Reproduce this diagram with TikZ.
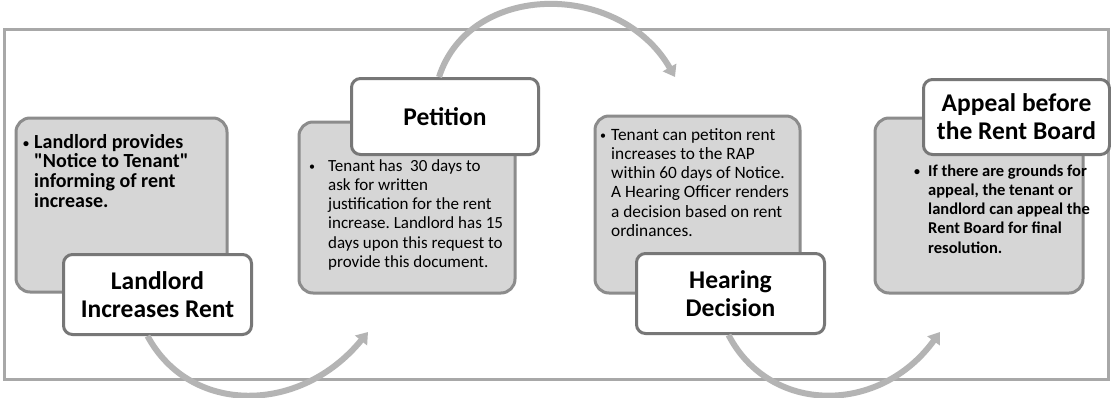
\documentclass[tikz,border=0pt]{standalone}
\usepackage{fontspec}
\setmainfont{Carlito}
\usetikzlibrary{arrows.meta}
\frenchspacing
\definecolor{framegray}{HTML}{A8A8A8}
\definecolor{boxfill}{HTML}{D6D6D6}
\definecolor{boxedge}{HTML}{8C8C8C}
\definecolor{titleedge}{HTML}{777777}
\definecolor{arrowgray}{HTML}{B4B4B4}
\tikzset{
  contentbox/.style={draw=boxedge, line width=3pt, fill=boxfill, rounded corners=14pt},
  titlebox/.style={draw=titleedge, line width=3pt, fill=white, rounded corners=9pt},
  titletext/.style={align=center, font=\bfseries\fontsize{25.5}{28}\selectfont, inner sep=0pt},
  bodytext/.style={anchor=base west, inner sep=0pt},
  flowarrow/.style={draw=arrowgray, line width=6pt, -{Triangle[length=11pt,width=15pt]}},
}
\newcommand{\bul}[1]{\makebox[#1][l]{\raisebox{0.5pt}{\fontsize{12}{12}\selectfont •}}}
\begin{document}
\begin{tikzpicture}[x=1pt,y=-1pt]
\useasboundingbox (0,0) rectangle (1111,397);
\fill[white] (0,0) rectangle (1111,397);
% frame
\draw[framegray, line width=3pt] (4,29) rectangle (1108,379);

% ---- box 1
\path[contentbox] (16,118) rectangle (227,292);
\node[bodytext] (t1) at (23,148) {\bfseries\fontsize{20}{19.3}\selectfont
  \begin{tabular}[t]{@{}l@{}l@{}}\bul{11pt}&Landlord provides\\&\textquotedbl Notice to Tenant\textquotedbl\\&informing of rent\\&increase.\end{tabular}};
\node[titlebox, minimum width=188pt, minimum height=80pt, anchor=north west] (b1) at (62,253) {};
\node[titletext] (l1) at (b1.center) {Landlord\\Increases Rent};

% ---- box 2
\path[contentbox] (299,122) rectangle (515,293);
\node[titlebox, minimum width=187pt, minimum height=76pt, anchor=north west] (b2) at (350,77) {};
\node[titletext] (l2) at (b2.center) {Petition};
\node[bodytext] (t2) at (309,171) {\fontsize{17}{19.3}\selectfont
  \begin{tabular}[t]{@{}l@{}l@{}}\bul{19pt}&Tenant has\ \ 30 days to\\&ask for written\\&justification for the rent\\&increase. Landlord has 15\\&days upon this request to\\&provide this document.\end{tabular}};

% ---- box 3
\path[contentbox] (595,116) rectangle (800,293);
\node[bodytext] (t3) at (600,140) {\fontsize{17.3}{19.3}\selectfont
  \begin{tabular}[t]{@{}l@{}l@{}}\bul{11pt}&Tenant can petiton rent\\&increases to the RAP\\&within 60 days of Notice.\\&A Hearing Officer renders\\&a decision based on rent\\&ordinances.\end{tabular}};
\node[titlebox, minimum width=188pt, minimum height=80pt, anchor=north west] (b3) at (635,252) {};
\node[titletext] (l3) at (b3.center) {Hearing\\Decision};

% ---- box 4
\path[contentbox] (875,118) rectangle (1083,293);
\node[titlebox, minimum width=186pt, minimum height=75pt, anchor=north west] (b4) at (922,78) {};
\node[titletext] (l4) at (b4.center) {Appeal before\\the Rent Board};
\node[bodytext] (t4) at (914,176) {\bfseries\fontsize{16.5}{19.3}\selectfont
  \begin{tabular}[t]{@{}l@{}l@{}}\bul{14pt}&If there are grounds for\\&appeal, the tenant or\\&landlord can appeal the\\&Rent Board for final\\&resolution.\end{tabular}};

% ---- arrows
\coordinate (a1e) at (368,332);
\coordinate (a2e) at (675,77);
\coordinate (a3e) at (940,332);
\draw[flowarrow] ([xshift=-10pt]b1.south) .. controls (190,415) and (300,415) .. (a1e);
\draw[flowarrow] ([xshift=-6pt]b2.north) .. controls (470,-19) and (620,-19) .. (a2e);
\draw[flowarrow] ([xshift=-2pt]b3.south) .. controls (770,415) and (880,415) .. (a3e);
\end{tikzpicture}
\end{document}
